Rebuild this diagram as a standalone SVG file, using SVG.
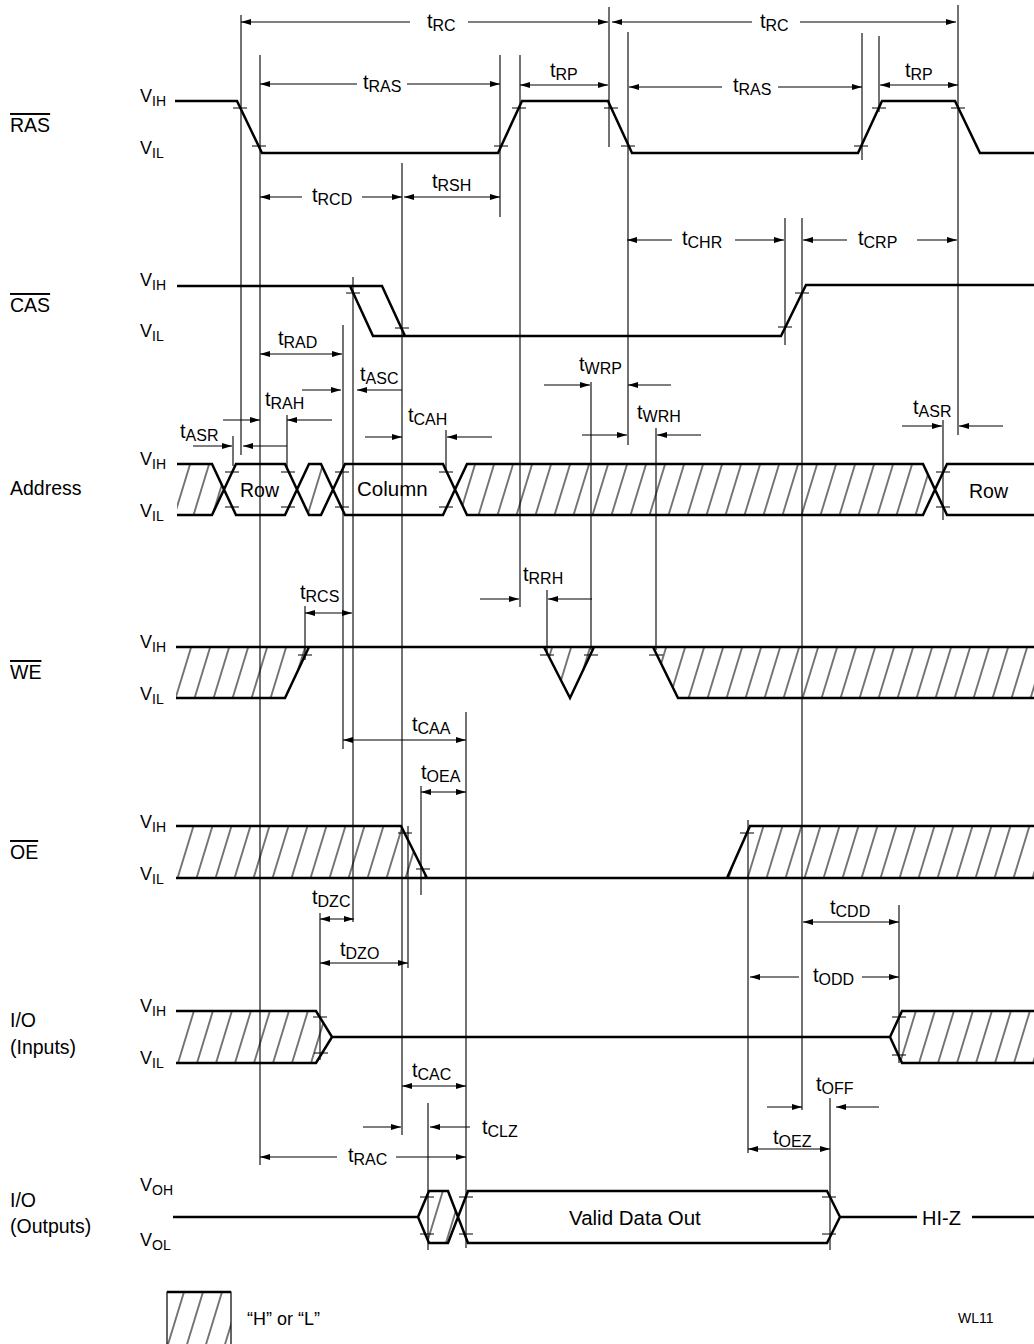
<svg xmlns="http://www.w3.org/2000/svg" width="1034" height="1344" viewBox="0 0 1034 1344">
<style>
.sig{fill:none;stroke:#000;stroke-width:2.5;stroke-linejoin:miter}
.ref{fill:none;stroke:#000;stroke-width:1.1}
.dim{fill:none;stroke:#000;stroke-width:1.1}
.tk{fill:none;stroke:#000;stroke-width:1.1}
.hf{fill:url(#h);stroke:none}
text{font-family:"Liberation Sans",Arial,sans-serif;fill:#000}
.nm{font-size:19.5px}
.tl{font-size:20px}
.sb{font-size:16px}
.vl{font-size:18px}
.vs{font-size:14px}
.ms{marker-start:url(#a)}
.me{marker-end:url(#a)}
.mb{marker-start:url(#a);marker-end:url(#a)}
</style>
<defs>
<pattern id="h" patternUnits="userSpaceOnUse" width="19" height="19" patternTransform="skewX(-17)">
<line x1="9" y1="-1" x2="9" y2="20" stroke="#000" stroke-width="1.1"/>
</pattern>
<marker id="a" viewBox="0 0 10 6" refX="10" refY="3" markerWidth="10" markerHeight="6" markerUnits="userSpaceOnUse" orient="auto-start-reverse">
<path d="M0,0 L10,3 L0,6 z" fill="#000"/>
</marker>
</defs>
<rect width="1034" height="1344" fill="#fff"/>

<g id="RAS">
<text class="nm" x="10" y="132" text-decoration="overline">RAS</text>
<text class="vl" x="140" y="102">V<tspan class="vs" dy="4">IH</tspan></text>
<text class="vl" x="140" y="154">V<tspan class="vs" dy="4">IL</tspan></text>
<path class="sig" d="M175,101 H237 L262,153 H498 L522,101 H608 L632,153 H858 L882,101 H955 L980,153 H1034"/>
<path class="tk" d="M233,108h14 M252,146h14 M494,146h14 M512,108h14 M604,108h14 M621,146h14 M854,146h14 M872,108h14 M951,108h14"/>
</g>

<g id="CAS">
<text class="nm" x="10" y="312" text-decoration="overline">CAS</text>
<text class="vl" x="140" y="286">V<tspan class="vs" dy="4">IH</tspan></text>
<text class="vl" x="140" y="337">V<tspan class="vs" dy="4">IL</tspan></text>
<path class="sig" d="M177,286 H382 L405,336 M350,286 L373,336 H781 L806,285 H1034"/>
<path class="tk" d="M346,293h14 M395,328h14 M778,327h14 M795,293h14"/>
</g>

<g id="Address">
<text class="nm" x="10" y="495">Address</text>
<text class="vl" x="140" y="465">V<tspan class="vs" dy="4">IH</tspan></text>
<text class="vl" x="140" y="517">V<tspan class="vs" dy="4">IL</tspan></text>
<polygon class="hf" points="177,464 212,464 224,489.5 212,515 177,515"/>
<polygon class="hf" points="297,489.5 309,464 321,464 333,489.5 321,515 309,515"/>
<polygon class="hf" points="455,489.5 467,464 923,464 935,489.5 923,515 467,515"/>
<path class="sig" d="M177,464 H212 L236,515 H285 L309,464 H321 L345,515 H443 L467,464 H923 L947,515 H1034 M177,515 H212 L236,464 H285 L309,515 H321 L345,464 H443 L467,515 H923 L947,464 H1034"/>
<path class="tk" d="M225,472h14 M225,507h14 M281,472h14 M281,507h14 M335,472h14 M335,507h14 M439,472h14 M439,507h14 M936,472h14 M936,507h14"/>
<text class="nm" x="240" y="497">Row</text>
<text class="nm" x="357" y="496" style="font-size:20.5px">Column</text>
<text class="nm" x="969" y="498">Row</text>
</g>

<g id="WE">
<text class="nm" x="10" y="679" text-decoration="overline">WE</text>
<text class="vl" x="140" y="648">V<tspan class="vs" dy="4">IH</tspan></text>
<text class="vl" x="140" y="700">V<tspan class="vs" dy="4">IL</tspan></text>
<polygon class="hf" points="176,647 309,647 285,698 176,698"/>
<polygon class="hf" points="544,647 570,698 594,647"/>
<polygon class="hf" points="653,647 678,698 1034,698 1034,647"/>
<path class="sig" d="M176,647 H1034 M176,698 H285 L309,647 M544,647 L570,698 L594,647 M653,647 L678,698 H1034"/>
<path class="tk" d="M298,655h14 M540,655h14 M584,655h14 M649,655h14"/>
</g>

<g id="OE">
<text class="nm" x="10" y="859" text-decoration="overline">OE</text>
<text class="vl" x="140" y="828">V<tspan class="vs" dy="4">IH</tspan></text>
<text class="vl" x="140" y="880">V<tspan class="vs" dy="4">IL</tspan></text>
<polygon class="hf" points="176,826 401,826 427,878 176,878"/>
<polygon class="hf" points="727,878 750,826 1034,826 1034,878"/>
<path class="sig" d="M176,826 H401 L427,878 M176,878 H1034 M727,878 L750,826 H1034"/>
<path class="tk" d="M398,833h14 M416,869h14 M740,833h14"/>
</g>

<g id="IO_Inputs">
<text class="nm" x="10" y="1027">I/O</text>
<text class="nm" x="10" y="1054">(Inputs)</text>
<text class="vl" x="140" y="1012">V<tspan class="vs" dy="4">IH</tspan></text>
<text class="vl" x="140" y="1064">V<tspan class="vs" dy="4">IL</tspan></text>
<polygon class="hf" points="176,1011 316,1011 332,1037 316,1063 176,1063"/>
<polygon class="hf" points="890,1037 902,1011 1034,1011 1034,1063 902,1063"/>
<path class="sig" d="M176,1011 H316 L332,1037 H890 L902,1011 H1034 M176,1063 H316 L332,1037 M890,1037 L902,1063 H1034"/>
<path class="tk" d="M313,1017h14 M314,1053h14 M892,1017h14 M892,1055h14"/>
</g>

<g id="IO_Outputs">
<text class="nm" x="10" y="1207">I/O</text>
<text class="nm" x="10" y="1233">(Outputs)</text>
<text class="vl" x="140" y="1191">V<tspan class="vs" dy="4">OH</tspan></text>
<text class="vl" x="140" y="1246">V<tspan class="vs" dy="4">OL</tspan></text>
<polygon class="hf" points="418,1217 429,1191 448,1191 458,1217 448,1243 429,1243"/>
<path class="sig" d="M173,1217 H418 L429,1191 H448 L468,1243 H827 L840,1217 H917 M418,1217 L429,1243 H448 L468,1191 H827 L840,1217 M972,1217 H1034"/>
<path class="tk" d="M420,1197h14 M420,1234h14 M459,1197h14 M459,1234h14 M822,1197h14 M822,1234h14"/>
<text class="nm" x="569" y="1225" style="font-size:20.5px">Valid Data Out</text>
<text class="nm" x="922" y="1225" style="font-size:20px">HI-Z</text>
</g>

<g id="legend">
<rect x="167" y="1292" width="64" height="60" class="hf"/>
<path d="M167,1352 V1292 H231 V1352" fill="none" stroke="#000" stroke-width="1.2"/>
<path d="M167,1292 H231" stroke="#000" stroke-width="2.4"/>
<text x="247" y="1325" style="font-size:18px">“H” or “L”</text>
<text x="958" y="1323" style="font-size:14px">WL11</text>
</g>

<g id="connectors">
<path class="ref" d="M241,15V455 M233,436V466 M260,55V1165 M287,415V470 M305,606V660 M320,913V1060 M343,325V749 M353,277V922 M402,163V1135 M408,826V968 M421,786V895 M428,1103V1250 M446,430V470 M466,712V1248 M500,55V217 M520,55V607 M547,590V655 M591,382V650 M609,7V147 M628,32V445 M656,428V650 M748,820V1153 M785,218V345 M802,218V1110 M830,1098V1250 M862,33V160 M879,36V112 M899,905V1063 M943,420V520 M958,5V435"/>
<path class="dim ms" d="M241,22H410"/><path class="dim me" d="M468,22H608"/>
<path class="dim ms" d="M612,22H752"/><path class="dim me" d="M800,22H956"/>
<path class="dim ms" d="M260,84H357"/><path class="dim me" d="M407,84H500"/>
<path class="dim mb" d="M520,85H608"/>
<path class="dim ms" d="M629,87H722"/><path class="dim me" d="M778,87H862"/>
<path class="dim mb" d="M880,85H958"/>
<path class="dim ms" d="M260,197H302"/><path class="dim me" d="M362,197H402"/>
<path class="dim mb" d="M404,197H500"/>
<path class="dim ms" d="M627,240H672"/><path class="dim me" d="M735,240H784"/>
<path class="dim ms" d="M803,240H847"/><path class="dim me" d="M917,240H957"/>
<path class="dim mb" d="M260,354H342"/>
<path class="dim me" d="M302,390H341"/><path class="dim ms" d="M357,390H402"/>
<path class="dim me" d="M223,420H260"/><path class="dim ms" d="M287,420H332"/>
<path class="dim me" d="M365,437H402"/><path class="dim ms" d="M447,437H492"/>
<path class="dim me" d="M193,446H232"/><path class="dim ms" d="M243,446H287"/>
<path class="dim me" d="M544,385H590"/><path class="dim ms" d="M628,385H671"/>
<path class="dim me" d="M582,435H627"/><path class="dim ms" d="M657,435H701"/>
<path class="dim me" d="M902,426H942"/><path class="dim ms" d="M959,426H1003"/>
<path class="dim me" d="M480,599H519"/><path class="dim ms" d="M548,599H592"/>
<path class="dim mb" d="M305,613H352"/>
<path class="dim mb" d="M343,740H466"/>
<path class="dim mb" d="M421,792H466"/>
<path class="dim mb" d="M320,919H354"/>
<path class="dim mb" d="M320,963H408"/>
<path class="dim mb" d="M803,922H899"/>
<path class="dim ms" d="M750,977H799"/><path class="dim me" d="M862,977H899"/>
<path class="dim mb" d="M402,1086H466"/>
<path class="dim me" d="M363,1127H401"/><path class="dim ms" d="M430,1127H470"/>
<path class="dim ms" d="M260,1157H337"/><path class="dim me" d="M396,1157H466"/>
<path class="dim me" d="M767,1107H802"/><path class="dim ms" d="M836,1107H879"/>
<path class="dim mb" d="M748,1149H830"/>
</g>

<g id="labels">
<text class="tl" x="427" y="28">t<tspan class="sb" dy="3">RC</tspan></text>
<text class="tl" x="760" y="28">t<tspan class="sb" dy="3">RC</tspan></text>
<text class="tl" x="363" y="89">t<tspan class="sb" dy="3">RAS</tspan></text>
<text class="tl" x="550" y="77">t<tspan class="sb" dy="3">RP</tspan></text>
<text class="tl" x="733" y="92">t<tspan class="sb" dy="3">RAS</tspan></text>
<text class="tl" x="905" y="77">t<tspan class="sb" dy="3">RP</tspan></text>
<text class="tl" x="312" y="202">t<tspan class="sb" dy="3">RCD</tspan></text>
<text class="tl" x="432" y="188">t<tspan class="sb" dy="3">RSH</tspan></text>
<text class="tl" x="682" y="245">t<tspan class="sb" dy="3">CHR</tspan></text>
<text class="tl" x="858" y="245">t<tspan class="sb" dy="3">CRP</tspan></text>
<text class="tl" x="278" y="345">t<tspan class="sb" dy="3">RAD</tspan></text>
<text class="tl" x="360" y="381">t<tspan class="sb" dy="3">ASC</tspan></text>
<text class="tl" x="265" y="406">t<tspan class="sb" dy="3">RAH</tspan></text>
<text class="tl" x="408" y="422">t<tspan class="sb" dy="3">CAH</tspan></text>
<text class="tl" x="180" y="438">t<tspan class="sb" dy="3">ASR</tspan></text>
<text class="tl" x="579" y="371">t<tspan class="sb" dy="3">WRP</tspan></text>
<text class="tl" x="637" y="419">t<tspan class="sb" dy="3">WRH</tspan></text>
<text class="tl" x="913" y="414">t<tspan class="sb" dy="3">ASR</tspan></text>
<text class="tl" x="300" y="599">t<tspan class="sb" dy="3">RCS</tspan></text>
<text class="tl" x="523" y="581">t<tspan class="sb" dy="3">RRH</tspan></text>
<text class="tl" x="412" y="731">t<tspan class="sb" dy="3">CAA</tspan></text>
<text class="tl" x="421" y="779">t<tspan class="sb" dy="3">OEA</tspan></text>
<text class="tl" x="312" y="904">t<tspan class="sb" dy="3">DZC</tspan></text>
<text class="tl" x="340" y="956">t<tspan class="sb" dy="3">DZO</tspan></text>
<text class="tl" x="830" y="914">t<tspan class="sb" dy="3">CDD</tspan></text>
<text class="tl" x="813" y="982">t<tspan class="sb" dy="3">ODD</tspan></text>
<text class="tl" x="412" y="1077">t<tspan class="sb" dy="3">CAC</tspan></text>
<text class="tl" x="816" y="1091">t<tspan class="sb" dy="3">OFF</tspan></text>
<text class="tl" x="482" y="1134">t<tspan class="sb" dy="3">CLZ</tspan></text>
<text class="tl" x="348" y="1162">t<tspan class="sb" dy="3">RAC</tspan></text>
<text class="tl" x="773" y="1144">t<tspan class="sb" dy="3">OEZ</tspan></text>
</g>
</svg>
